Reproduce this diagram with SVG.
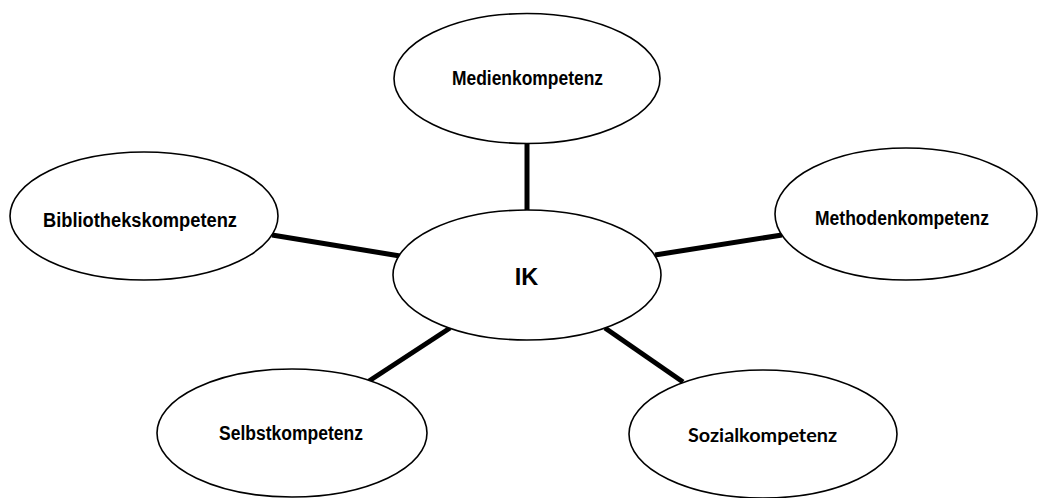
<svg xmlns="http://www.w3.org/2000/svg" width="1039" height="498" viewBox="0 0 1039 498">
<style>
.n{fill:#fff;stroke:#000;stroke-width:1.6}
.t{font-family:"Liberation Sans",Arial,sans-serif;font-weight:bold;font-size:19.5px;fill:#000;text-anchor:middle}
.c{font-family:Lato,"Open Sans",sans-serif;font-weight:bold;font-size:19px;fill:#000;text-anchor:middle}
.e{stroke:#000;stroke-width:5;fill:none}
</style>
<rect width="1039" height="498" fill="#fff"/>
<g id="connectors">
<line class="e" x1="527" y1="143" x2="527" y2="211"/>
<line class="e" x1="272" y1="235" x2="400" y2="256"/>
<line class="e" x1="655" y1="255" x2="782" y2="235"/>
<line class="e" x1="369" y1="381" x2="450" y2="328"/>
<line class="e" x1="605" y1="328" x2="683" y2="382"/>
</g>
<g id="medien">
<ellipse class="n" cx="527" cy="78.5" rx="133" ry="65"/>
<text class="t" x="527.5" y="85" textLength="151" lengthAdjust="spacingAndGlyphs">Medienkompetenz</text>
</g>
<g id="bibliothek">
<ellipse class="n" cx="144" cy="216" rx="134" ry="64"/>
<text class="t" x="140" y="227" textLength="194" lengthAdjust="spacingAndGlyphs">Bibliothekskompetenz</text>
</g>
<g id="methoden">
<ellipse class="n" cx="906" cy="214" rx="131" ry="66"/>
<text class="t" x="902" y="225" textLength="174" lengthAdjust="spacingAndGlyphs">Methodenkompetenz</text>
</g>
<g id="ik">
<ellipse class="n" cx="527" cy="275" rx="134" ry="65"/>
<text class="t" x="526.5" y="285" style="font-size:23.5px">IK</text>
</g>
<g id="selbst">
<ellipse class="n" cx="292" cy="433" rx="135" ry="64"/>
<text class="t" x="291" y="440" textLength="144" lengthAdjust="spacingAndGlyphs">Selbstkompetenz</text>
</g>
<g id="sozial">
<ellipse class="n" cx="763" cy="434" rx="134" ry="64"/>
<text class="c" x="762.5" y="442" textLength="149" lengthAdjust="spacingAndGlyphs">Sozialkompetenz</text>
</g>
</svg>
